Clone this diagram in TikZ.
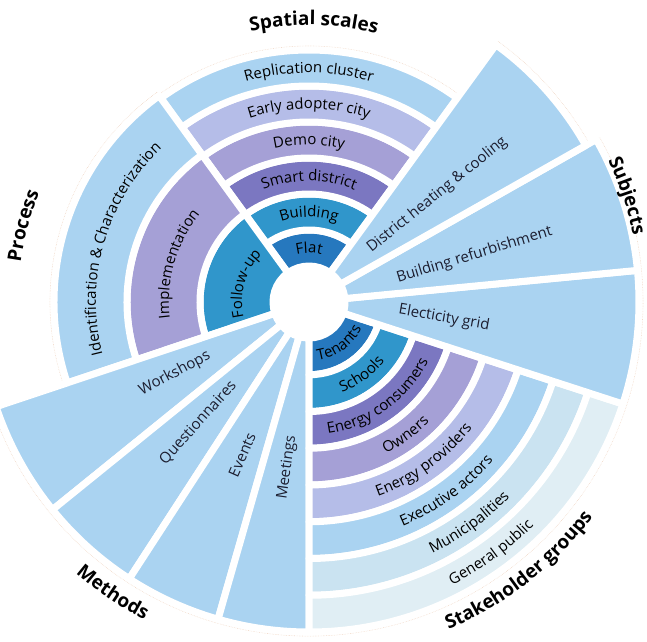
\documentclass[tikz,border=0pt]{standalone}
\usepackage{fontspec}
\setmainfont{Open Sans}
\usetikzlibrary{decorations.text}

\definecolor{skyblue}{RGB}{170,211,241}
\definecolor{periblue}{RGB}{181,189,232}
\definecolor{lavender}{RGB}{165,160,214}
\definecolor{deepviolet}{RGB}{123,119,193}
\definecolor{oceanblue}{RGB}{48,150,203}
\definecolor{navyblue}{RGB}{38,120,190}
\definecolor{paleblue}{RGB}{202,227,241}
\definecolor{mistblue}{RGB}{224,238,244}
\definecolor{ink}{RGB}{28,30,48}
\definecolor{rimtint}{RGB}{240,214,196}

\newcommand{\labelfont}{\fontsize{15}{18}\selectfont}
\newcommand{\titlefont}{\bfseries\fontsize{19}{22}\selectfont}

% fill, from angle, to angle, inner radius, outer radius
\newcommand{\ringpart}[5]{%
  \filldraw[sector, fill=#1] (#2:#4pt) arc[start angle=#2, end angle=#3, radius=#4pt]
    -- (#3:#5pt) arc[start angle=#3, end angle=#2, radius=#5pt] -- cycle;}
% font, radius, from angle, to angle, text
\newcommand{\arctext}[5]{%
  \path[decorate, decoration={text along path, text align=center,
    text={|#1|#5}}] (#3:#2pt) arc[start angle=#3, end angle=#4, radius=#2pt];}

\begin{document}
\begin{tikzpicture}[
  sector/.style={draw=white, line width=7pt, line join=round},
  rim/.style={draw=rimtint, densely dotted, line width=0.6pt},
  wedgelabel/.style={text=ink, font=\labelfont, inner sep=0pt}]
\useasboundingbox (-309pt,-339pt) rectangle (338pt,302pt);

% outline
\draw[rim] (126:259pt) arc[start angle=126, end angle=198.5, radius=259pt]
  -- (198.5:334pt) arc[start angle=198.5, end angle=389.5, radius=334pt]
  -- (29.5:322pt) arc[start angle=29.5, end angle=54, radius=322pt]
  -- (54:256pt) arc[start angle=54, end angle=126, radius=256pt] -- cycle;

% Spatial scales
\ringpart{navyblue}{54}{126}{36}{72}
\ringpart{oceanblue}{54}{126}{72}{108}
\ringpart{deepviolet}{54}{126}{108}{144}
\ringpart{lavender}{54}{126}{144}{180}
\ringpart{periblue}{54}{126}{180}{216}
\ringpart{skyblue}{54}{126}{216}{252}
\arctext{\labelfont}{49}{170}{10}{Flat}
\arctext{\labelfont}{85}{170}{10}{Building}
\arctext{\labelfont}{121}{170}{10}{Smart district}
\arctext{\labelfont}{157}{170}{10}{Demo city}
\arctext{\labelfont}{193}{170}{10}{Early adopter city}
\arctext{\labelfont}{229}{170}{10}{Replication cluster}
\arctext{\titlefont}{277}{169}{9}{Spatial scales}

% Process
\ringpart{oceanblue}{126}{198.5}{36}{109}
\ringpart{lavender}{126}{198.5}{109}{182}
\ringpart{skyblue}{126}{198.5}{182}{255}
\arctext{\labelfont}{67}{244}{84}{Follow-up}
\arctext{\labelfont}{140}{244}{84}{Implementation}
\arctext{\labelfont}{213}{244}{84}{Identification {\&} Characterization}
\arctext{\titlefont}{291}{245}{85}{Process}

% Methods
\ringpart{skyblue}{198.5}{219}{36}{330}
\ringpart{skyblue}{219}{237}{36}{330}
\ringpart{skyblue}{237}{254}{36}{330}
\ringpart{skyblue}{254}{270}{36}{330}
\node[wedgelabel, rotate=28] (workshops) at (208:152pt) {Workshops};
\node[wedgelabel, rotate=48] (questionnaires) at (227.5:164pt) {Questionnaires};
\node[wedgelabel, rotate=66] (events) at (246.4:167pt) {Events};
\node[wedgelabel, rotate=82] (meetings) at (262.5:167pt) {Meetings};
\arctext{\titlefont}{358}{186}{286}{Methods}

% Stakeholder groups
\ringpart{navyblue}{270}{342}{36}{72.75}
\ringpart{oceanblue}{270}{342}{72.75}{109.5}
\ringpart{deepviolet}{270}{342}{109.5}{146.25}
\ringpart{lavender}{270}{342}{146.25}{183}
\ringpart{periblue}{270}{342}{183}{219.75}
\ringpart{skyblue}{270}{342}{219.75}{256.5}
\ringpart{paleblue}{270}{342}{256.5}{293.25}
\ringpart{mistblue}{270}{342}{293.25}{330}
\arctext{\labelfont}{59}{-134}{26}{Tenants}
\arctext{\labelfont}{96}{-134}{26}{Schools}
\arctext{\labelfont}{133}{-134}{26}{Energy consumers}
\arctext{\labelfont}{170}{-134}{26}{Owners}
\arctext{\labelfont}{206}{-134}{26}{Energy providers}
\arctext{\labelfont}{243}{-134}{26}{Executive actors}
\arctext{\labelfont}{280}{-134}{26}{Municipalities}
\arctext{\labelfont}{317}{-134}{26}{General public}
\arctext{\titlefont}{356}{-102}{-2}{Stakeholder groups}

% Subjects
\ringpart{skyblue}{-18}{5.5}{36}{330}
\ringpart{skyblue}{5.5}{29.5}{36}{330}
\ringpart{skyblue}{29.5}{54}{36}{318}
\node[wedgelabel, rotate=39] (heating) at (39.9:167pt) {District heating \& cooling};
\node[wedgelabel, rotate=17] (refurbishment) at (15.8:172pt) {Building refurbishment};
\node[wedgelabel, rotate=-10] (grid) at (-6.8:136pt) {Electicity grid};
\arctext{\titlefont}{331}{68}{-31}{Subjects}
\end{tikzpicture}
\end{document}
